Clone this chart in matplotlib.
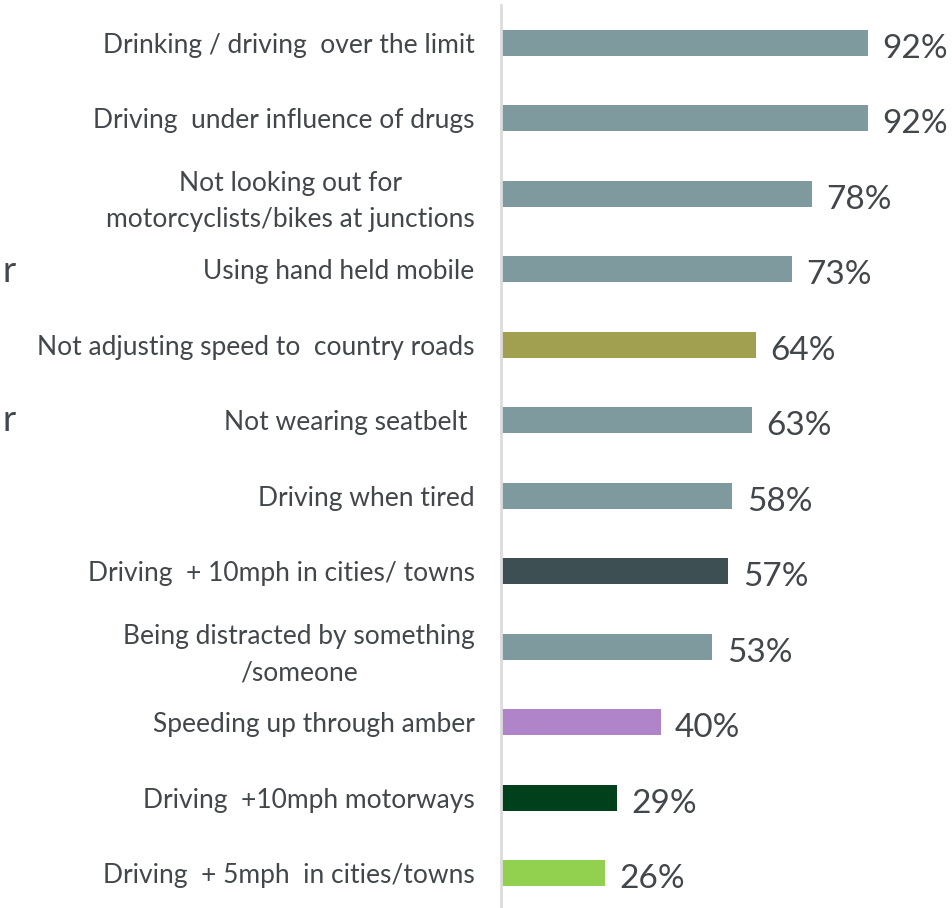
import matplotlib
matplotlib.use('Agg')
import matplotlib.pyplot as plt

plt.rcParams['font.family'] = ['Lato', 'DejaVu Sans']

labels = [
    'Drinking / driving  over the limit',
    'Driving  under influence of drugs',
    'Not looking out for\nmotorcyclists/bikes at junctions',
    'Using hand held mobile',
    'Not adjusting speed to  country roads',
    'Not wearing seatbelt ',
    'Driving when tired',
    'Driving  + 10mph in cities/ towns',
    'Being distracted by something\n/someone',
    'Speeding up through amber',
    'Driving  +10mph motorways',
    'Driving  + 5mph  in cities/towns',
]
values = [92, 92, 78, 73, 64, 63, 58, 57, 53, 40, 29, 26]
colors = ['#7f9a9e', '#7f9a9e', '#7f9a9e', '#7f9a9e', '#a0a050', '#7f9a9e',
          '#7f9a9e', '#3e4f54', '#7f9a9e', '#b084c8', '#00401a', '#92d050']

text_col = '#42474c'
W, H = 953, 908
fig = plt.figure(figsize=(W / 100, H / 100), dpi=100)
ax = fig.add_axes([501 / W, 0, 399 / W, 903 / H])

pos = list(range(len(values)))
ax.barh(pos, values, height=0.35, color=colors)
ax.set_xlim(0, 100)
ax.set_ylim(11.46, -0.5)

for y, v in zip(pos, values):
    ax.text(v + 3.6, y + 0.08, f'{v}%', va='center', ha='left',
            fontsize=24, color=text_col)

ax.set_yticks(pos)
ax.set_yticklabels(labels, fontsize=19, color=text_col,
                   multialignment='center', linespacing=1.55)
ax.tick_params(axis='y', length=0, pad=19)
ax.set_xticks([])
for side in ['top', 'right', 'bottom']:
    ax.spines[side].set_visible(False)
ax.spines['left'].set_color('#dcdcdc')
ax.spines['left'].set_linewidth(2)

# clipped fragments of text at the left edge
fig.text(16 / W, 1 - 272 / H, 'r', ha='right', va='center', fontsize=26, color=text_col)
fig.text(16 / W, 1 - 420 / H, 'r', ha='right', va='center', fontsize=26, color=text_col)

fig.savefig('out.png', dpi=100)
